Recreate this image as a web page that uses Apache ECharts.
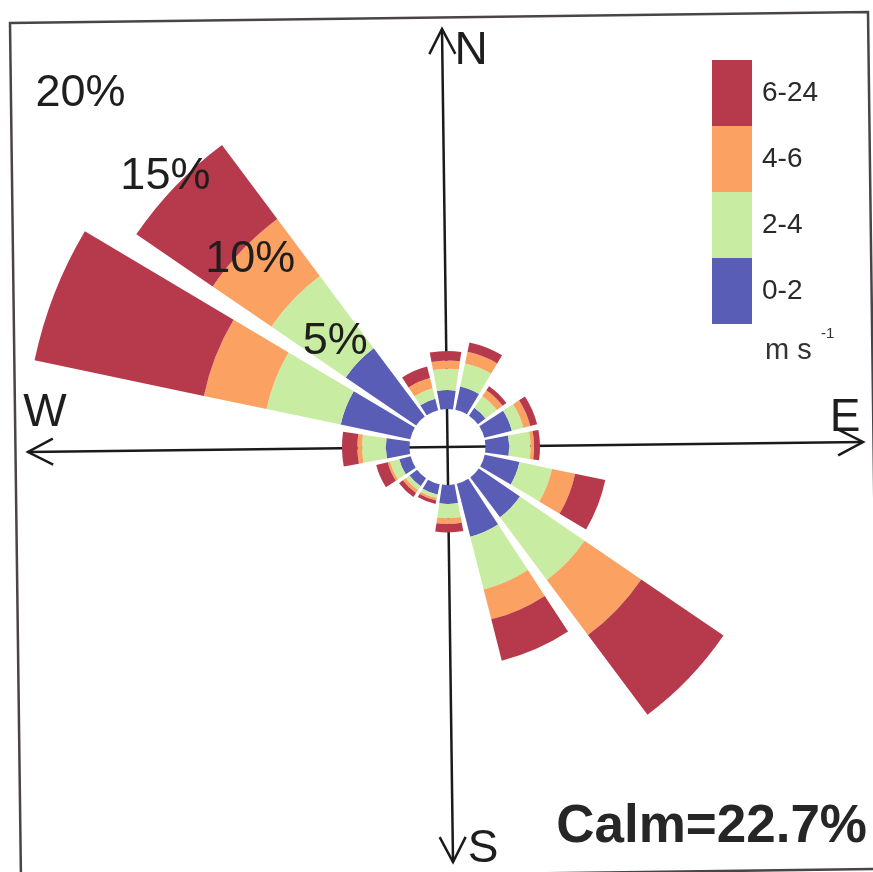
<!DOCTYPE html>
<html>
<head>
<meta charset="utf-8">
<script src="https://cdn.jsdelivr.net/npm/echarts@6/dist/echarts.min.js"></script>
<style>
  html, body { margin: 0; padding: 0; background: #fff; }
  #rose { width: 873px; height: 872px; }
</style>
</head>
<body>
<div id="rose"></div>
<script>
// wind directions, clockwise from north
const directions = ['N', 'NNE', 'NE', 'ENE', 'E', 'ESE', 'SE', 'SSE', 'S', 'SSW', 'SW', 'WSW', 'W', 'WNW', 'NW', 'NNW'];

// frequency (%) per speed class (m/s)
const speed0to2  = [0.8, 1.0, 0.4, 1.2, 1.0, 1.5, 2.1, 2.3, 0.8, 0.45, 0.4, 0.5, 1.0, 3.0, 3.6, 0.5];
const speed2to4  = [0.9, 1.0, 0.6, 0.5, 0.9, 1.4, 3.3, 2.3, 0.6, 0.15, 0.2, 0.4, 1.0, 3.2, 3.8, 0.45];
const speed4to6  = [0.35, 0.5, 0.3, 0.3, 0.15, 1.0, 2.9, 1.3, 0.25, 0.1, 0.15, 0.1, 0.2, 2.7, 3.0, 0.45];
const speed6to24 = [0.4, 0.4, 0.2, 0.3, 0.25, 1.3, 4.2, 1.8, 0.35, 0.15, 0.2, 0.5, 0.65, 7.3, 3.9, 0.5];

const classNames = ['0-2', '2-4', '4-6', '6-24'];
const classColors = ['#5a5db6', '#c8eca2', '#fba262', '#b73a4c'];
const ringTicks = [5, 10, 15, 20];
const calmText = 'Calm=22.7%';

// the scanned figure is turned a little counter-clockwise
const tilt = 1.2;
const labelTilt = 0.8;
const center = [447.5, 447];
const labelCenter = [447.5, 451];
const font = '"Liberation Sans", Arial, sans-serif';

var myChart = echarts.init(document.getElementById('rose'));

let seriesArr = [speed0to2, speed2to4, speed4to6, speed6to24].map((vals, i) => ({
    name: classNames[i],
    type: 'bar',
    coordinateSystem: 'polar',
    polarIndex: 0,
    stack: 'wind',
    barCategoryGap: '16%',
    itemStyle: { color: classColors[i] },
    emphasis: { disabled: true },
    data: vals
}));

// cross with arrow heads, frame and compass letters
function arrowHead(tip, dir) {
    // dir: unit vector pointing along the arrow
    let len = 25, half = 13;
    let bx = tip[0] - dir[0] * len, by = tip[1] - dir[1] * len;
    let nx = -dir[1], ny = dir[0];
    return {
        type: 'polyline', z: 1,
        shape: { points: [[bx + nx * half, by + ny * half], tip, [bx - nx * half, by - ny * half]] },
        style: { stroke: '#1a1a1a', lineWidth: 2.5, fill: null }
    };
}
const north = [442, 29], south = [453, 862], west = [28, 452], east = [863, 442];
function unit(a, b) {
    let dx = b[0] - a[0], dy = b[1] - a[1], l = Math.sqrt(dx * dx + dy * dy);
    return [dx / l, dy / l];
}

let graphics = [
    {
        type: 'polygon', z: 0,
        shape: { points: [[10, 23], [868, 12], [879, 869], [21, 880]] },
        style: { stroke: '#4a4448', lineWidth: 2.5, fill: null }
    },
    { type: 'line', z: 1, shape: { x1: north[0], y1: north[1], x2: south[0], y2: south[1] }, style: { stroke: '#1a1a1a', lineWidth: 2.5 } },
    { type: 'line', z: 1, shape: { x1: west[0], y1: west[1], x2: east[0], y2: east[1] }, style: { stroke: '#1a1a1a', lineWidth: 2.5 } },
    arrowHead(north, unit(south, north)),
    arrowHead(south, unit(north, south)),
    arrowHead(west, unit(east, west)),
    arrowHead(east, unit(west, east)),
    { type: 'text', z: 20, x: 471, y: 51, style: { text: 'N', font: '46px ' + font, fill: '#1e1e1e', textAlign: 'center', textVerticalAlign: 'middle' } },
    { type: 'text', z: 20, x: 845, y: 418, style: { text: 'E', font: '46px ' + font, fill: '#1e1e1e', textAlign: 'center', textVerticalAlign: 'middle' } },
    { type: 'text', z: 20, x: 483, y: 849, style: { text: 'S', font: '46px ' + font, fill: '#1e1e1e', textAlign: 'center', textVerticalAlign: 'middle' } },
    { type: 'text', z: 20, x: 45, y: 413, style: { text: 'W', font: '46px ' + font, fill: '#1e1e1e', textAlign: 'center', textVerticalAlign: 'middle' } },
    { type: 'text', z: 20, x: 867, y: 827, style: { text: calmText, font: 'bold 53px ' + font, fill: '#262626', textAlign: 'right', textVerticalAlign: 'middle' } },
    { type: 'text', z: 20, x: 765, y: 351, style: { text: 'm s', font: '29px ' + font, fill: '#333', textAlign: 'left', textVerticalAlign: 'middle' } },
    { type: 'text', z: 20, x: 821, y: 334, style: { text: '-1', font: '15px ' + font, fill: '#333', textAlign: 'left', textVerticalAlign: 'middle' } }
];

myChart.setOption({
    animation: false,
    backgroundColor: '#fff',
    legend: {
        data: ['6-24', '4-6', '2-4', '0-2'],
        orient: 'vertical',
        left: 712,
        top: 60,
        padding: 0,
        itemGap: 0,
        itemWidth: 40,
        itemHeight: 66,
        icon: 'rect',
        selectedMode: false,
        textStyle: { fontFamily: font, fontSize: 28, color: '#2a2a2a', padding: [8, 0, 0, 5] }
    },
    polar: [
        { center: center, radius: [38, 512] },
        { center: labelCenter, radius: [38, 512] }
    ],
    angleAxis: [
        {
            polarIndex: 0,
            type: 'category',
            data: directions,
            startAngle: 90 + 11.25 + tilt,
            clockwise: true,
            show: false
        },
        {
            polarIndex: 1,
            type: 'value',
            min: 0,
            max: 360,
            startAngle: 135 + labelTilt,
            show: false
        }
    ],
    radiusAxis: [
        { polarIndex: 0, type: 'value', min: 0, max: 20, show: false },
        {
            polarIndex: 1,
            type: 'value',
            min: 0,
            max: 20,
            interval: 5,
            z: 10,
            axisLine: { show: false },
            axisTick: { show: false },
            splitLine: { show: false },
            axisLabel: {
                showMinLabel: false,
                margin: 0,
                align: 'center',
                verticalAlign: 'middle',
                fontFamily: font,
                fontSize: 45,
                color: '#1e1e1e',
                formatter: v => ringTicks.indexOf(v) >= 0 ? v + '%' : ''
            }
        }
    ],
    graphic: graphics,
    series: seriesArr
});
</script>
</body>
</html>
